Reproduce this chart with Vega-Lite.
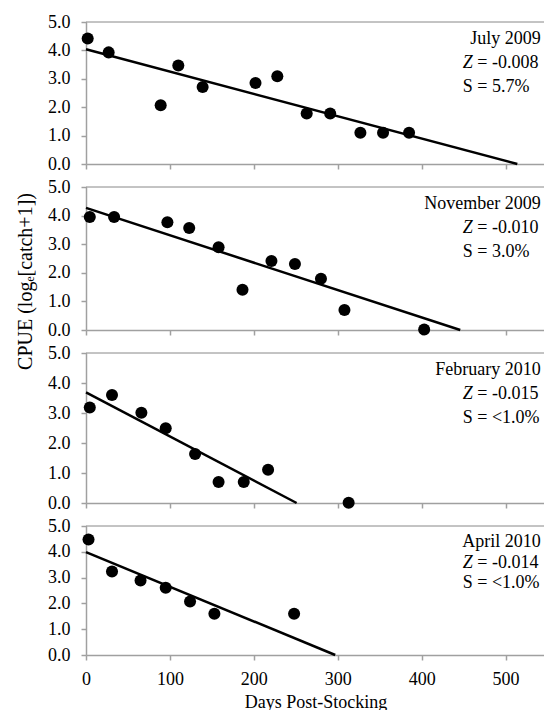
{
  "$schema": "https://vega.github.io/schema/vega-lite/v6.json",
  "padding": {"left": 15, "top": 13, "right": 0, "bottom": 0},
  "background": "white",
  "datasets": {
    "points": [
      {"panel": "July 2009", "days": 2, "cpue": 4.42},
      {"panel": "July 2009", "days": 27, "cpue": 3.93},
      {"panel": "July 2009", "days": 89, "cpue": 2.07},
      {"panel": "July 2009", "days": 110, "cpue": 3.47},
      {"panel": "July 2009", "days": 139, "cpue": 2.71},
      {"panel": "July 2009", "days": 202, "cpue": 2.85},
      {"panel": "July 2009", "days": 228, "cpue": 3.09},
      {"panel": "July 2009", "days": 263, "cpue": 1.78},
      {"panel": "July 2009", "days": 291, "cpue": 1.78},
      {"panel": "July 2009", "days": 327, "cpue": 1.1},
      {"panel": "July 2009", "days": 354, "cpue": 1.1},
      {"panel": "July 2009", "days": 385, "cpue": 1.1},
      {"panel": "November 2009", "days": 4.5, "cpue": 3.95},
      {"panel": "November 2009", "days": 33.5, "cpue": 3.95},
      {"panel": "November 2009", "days": 97, "cpue": 3.77},
      {"panel": "November 2009", "days": 123, "cpue": 3.57},
      {"panel": "November 2009", "days": 158, "cpue": 2.89},
      {"panel": "November 2009", "days": 186.5, "cpue": 1.41},
      {"panel": "November 2009", "days": 221, "cpue": 2.41},
      {"panel": "November 2009", "days": 249, "cpue": 2.31},
      {"panel": "November 2009", "days": 280, "cpue": 1.79},
      {"panel": "November 2009", "days": 308, "cpue": 0.7},
      {"panel": "November 2009", "days": 403, "cpue": 0.02},
      {"panel": "February 2010", "days": 4.5, "cpue": 3.18},
      {"panel": "February 2010", "days": 31, "cpue": 3.6},
      {"panel": "February 2010", "days": 66, "cpue": 3.01},
      {"panel": "February 2010", "days": 95, "cpue": 2.49},
      {"panel": "February 2010", "days": 130, "cpue": 1.63},
      {"panel": "February 2010", "days": 158, "cpue": 0.7},
      {"panel": "February 2010", "days": 188, "cpue": 0.7},
      {"panel": "February 2010", "days": 217, "cpue": 1.11},
      {"panel": "February 2010", "days": 313, "cpue": 0.01},
      {"panel": "April 2010", "days": 3, "cpue": 4.48},
      {"panel": "April 2010", "days": 31, "cpue": 3.24},
      {"panel": "April 2010", "days": 65, "cpue": 2.89},
      {"panel": "April 2010", "days": 95, "cpue": 2.61},
      {"panel": "April 2010", "days": 124, "cpue": 2.07},
      {"panel": "April 2010", "days": 153, "cpue": 1.6},
      {"panel": "April 2010", "days": 248, "cpue": 1.6}
    ],
    "fits": [
      {"panel": "July 2009", "days": 0, "cpue": 4.04},
      {"panel": "July 2009", "days": 514, "cpue": 0},
      {"panel": "November 2009", "days": 0, "cpue": 4.27},
      {"panel": "November 2009", "days": 446, "cpue": 0},
      {"panel": "February 2010", "days": 0, "cpue": 3.69},
      {"panel": "February 2010", "days": 251, "cpue": 0},
      {"panel": "April 2010", "days": 0, "cpue": 3.99},
      {"panel": "April 2010", "days": 297, "cpue": 0}
    ],
    "notes": [
      {"panel": "July 2009", "zrest": "= -0.008", "s": "S = 5.7%"},
      {"panel": "November 2009", "zrest": "= -0.010", "s": "S = 3.0%"},
      {"panel": "February 2010", "zrest": "= -0.015", "s": "S = <1.0%"},
      {"panel": "April 2010", "zrest": "= -0.014", "s": "S = <1.0%"}
    ]
  },
  "bounds": "flush",
  "spacing": 23,
  "vconcat": [
    {
      "width": 459, "height": 142,
      "layer": [
        {"data": {"name": "fits"}, "transform": [{"filter": "datum.panel === 'July 2009'"}], "mark": {"type": "line", "color": "black", "strokeWidth": 2.5}, "encoding": {"x": {"field": "days", "type": "quantitative", "scale": {"domain": [0, 547], "nice": false}, "axis": {"values": [0, 100, 200, 300, 400, 500], "labels": false, "title": null}}, "y": {"field": "cpue", "type": "quantitative", "scale": {"domain": [0, 5], "nice": false}, "axis": {"values": [0, 1, 2, 3, 4, 5], "tickCount": 6, "format": ".1f", "labelOverlap": false, "title": null}}}},
        {"data": {"name": "points"}, "transform": [{"filter": "datum.panel === 'July 2009'"}], "mark": {"type": "circle", "color": "black", "opacity": 1, "size": 145}, "encoding": {"x": {"field": "days", "type": "quantitative"}, "y": {"field": "cpue", "type": "quantitative"}}},
        {"data": {"values": [{}]}, "mark": {"type": "rule", "color": "#888888", "strokeWidth": 1}, "encoding": {"y": {"datum": 5, "type": "quantitative"}}},
        {"data": {"name": "notes"}, "transform": [{"filter": "datum.panel === 'July 2009'"}], "mark": {"type": "text", "align": "right", "baseline": "alphabetic"}, "encoding": {"text": {"field": "panel"}, "x": {"datum": 542, "type": "quantitative"}, "y": {"datum": 4.225, "type": "quantitative"}}},
        {"data": {"name": "notes"}, "transform": [{"filter": "datum.panel === 'July 2009'"}], "mark": {"type": "text", "align": "left", "baseline": "alphabetic", "fontStyle": "italic", "text": "Z"}, "encoding": {"x": {"datum": 449, "type": "quantitative"}, "y": {"datum": 3.38, "type": "quantitative"}}},
        {"data": {"name": "notes"}, "transform": [{"filter": "datum.panel === 'July 2009'"}], "mark": {"type": "text", "align": "left", "baseline": "alphabetic", "dx": 14.5}, "encoding": {"text": {"field": "zrest"}, "x": {"datum": 449, "type": "quantitative"}, "y": {"datum": 3.38, "type": "quantitative"}}},
        {"data": {"name": "notes"}, "transform": [{"filter": "datum.panel === 'July 2009'"}], "mark": {"type": "text", "align": "left", "baseline": "alphabetic"}, "encoding": {"text": {"field": "s"}, "x": {"datum": 449, "type": "quantitative"}, "y": {"datum": 2.535, "type": "quantitative"}}}
      ]
    },
    {
      "width": 459, "height": 143,
      "layer": [
        {"data": {"name": "fits"}, "transform": [{"filter": "datum.panel === 'November 2009'"}], "mark": {"type": "line", "color": "black", "strokeWidth": 2.5}, "encoding": {"x": {"field": "days", "type": "quantitative", "scale": {"domain": [0, 547], "nice": false}, "axis": {"values": [0, 100, 200, 300, 400, 500], "labels": false, "title": null}}, "y": {"field": "cpue", "type": "quantitative", "scale": {"domain": [0, 5], "nice": false}, "axis": {"values": [0, 1, 2, 3, 4, 5], "tickCount": 6, "format": ".1f", "labelOverlap": false, "title": "CPUE (logₑ[catch+1])", "titleY": 94, "titleFontSize": 20}}}},
        {"data": {"name": "points"}, "transform": [{"filter": "datum.panel === 'November 2009'"}], "mark": {"type": "circle", "color": "black", "opacity": 1, "size": 145}, "encoding": {"x": {"field": "days", "type": "quantitative"}, "y": {"field": "cpue", "type": "quantitative"}}},
        {"data": {"values": [{}]}, "mark": {"type": "rule", "color": "#888888", "strokeWidth": 1}, "encoding": {"y": {"datum": 5, "type": "quantitative"}}},
        {"data": {"name": "notes"}, "transform": [{"filter": "datum.panel === 'November 2009'"}], "mark": {"type": "text", "align": "right", "baseline": "alphabetic"}, "encoding": {"text": {"field": "panel"}, "x": {"datum": 542, "type": "quantitative"}, "y": {"datum": 4.231, "type": "quantitative"}}},
        {"data": {"name": "notes"}, "transform": [{"filter": "datum.panel === 'November 2009'"}], "mark": {"type": "text", "align": "left", "baseline": "alphabetic", "fontStyle": "italic", "text": "Z"}, "encoding": {"x": {"datum": 449, "type": "quantitative"}, "y": {"datum": 3.392, "type": "quantitative"}}},
        {"data": {"name": "notes"}, "transform": [{"filter": "datum.panel === 'November 2009'"}], "mark": {"type": "text", "align": "left", "baseline": "alphabetic", "dx": 14.5}, "encoding": {"text": {"field": "zrest"}, "x": {"datum": 449, "type": "quantitative"}, "y": {"datum": 3.392, "type": "quantitative"}}},
        {"data": {"name": "notes"}, "transform": [{"filter": "datum.panel === 'November 2009'"}], "mark": {"type": "text", "align": "left", "baseline": "alphabetic"}, "encoding": {"text": {"field": "s"}, "x": {"datum": 449, "type": "quantitative"}, "y": {"datum": 2.552, "type": "quantitative"}}}
      ]
    },
    {
      "width": 459, "height": 150,
      "layer": [
        {"data": {"name": "fits"}, "transform": [{"filter": "datum.panel === 'February 2010'"}], "mark": {"type": "line", "color": "black", "strokeWidth": 2.5}, "encoding": {"x": {"field": "days", "type": "quantitative", "scale": {"domain": [0, 547], "nice": false}, "axis": {"values": [0, 100, 200, 300, 400, 500], "labels": false, "title": null}}, "y": {"field": "cpue", "type": "quantitative", "scale": {"domain": [0, 5], "nice": false}, "axis": {"values": [0, 1, 2, 3, 4, 5], "tickCount": 6, "format": ".1f", "labelOverlap": false, "title": null}}}},
        {"data": {"name": "points"}, "transform": [{"filter": "datum.panel === 'February 2010'"}], "mark": {"type": "circle", "color": "black", "opacity": 1, "size": 145}, "encoding": {"x": {"field": "days", "type": "quantitative"}, "y": {"field": "cpue", "type": "quantitative"}}},
        {"data": {"values": [{}]}, "mark": {"type": "rule", "color": "#888888", "strokeWidth": 1}, "encoding": {"y": {"datum": 5, "type": "quantitative"}}},
        {"data": {"name": "notes"}, "transform": [{"filter": "datum.panel === 'February 2010'"}], "mark": {"type": "text", "align": "right", "baseline": "alphabetic"}, "encoding": {"text": {"field": "panel"}, "x": {"datum": 542, "type": "quantitative"}, "y": {"datum": 4.267, "type": "quantitative"}}},
        {"data": {"name": "notes"}, "transform": [{"filter": "datum.panel === 'February 2010'"}], "mark": {"type": "text", "align": "left", "baseline": "alphabetic", "fontStyle": "italic", "text": "Z"}, "encoding": {"x": {"datum": 449, "type": "quantitative"}, "y": {"datum": 3.467, "type": "quantitative"}}},
        {"data": {"name": "notes"}, "transform": [{"filter": "datum.panel === 'February 2010'"}], "mark": {"type": "text", "align": "left", "baseline": "alphabetic", "dx": 14.5}, "encoding": {"text": {"field": "zrest"}, "x": {"datum": 449, "type": "quantitative"}, "y": {"datum": 3.467, "type": "quantitative"}}},
        {"data": {"name": "notes"}, "transform": [{"filter": "datum.panel === 'February 2010'"}], "mark": {"type": "text", "align": "left", "baseline": "alphabetic"}, "encoding": {"text": {"field": "s"}, "x": {"datum": 449, "type": "quantitative"}, "y": {"datum": 2.667, "type": "quantitative"}}}
      ]
    },
    {
      "width": 459, "height": 129,
      "layer": [
        {"data": {"name": "fits"}, "transform": [{"filter": "datum.panel === 'April 2010'"}], "mark": {"type": "line", "color": "black", "strokeWidth": 2.5}, "encoding": {"x": {"field": "days", "type": "quantitative", "scale": {"domain": [0, 547], "nice": false}, "axis": {"values": [0, 100, 200, 300, 400, 500], "title": "Days Post-Stocking"}}, "y": {"field": "cpue", "type": "quantitative", "scale": {"domain": [0, 5], "nice": false}, "axis": {"values": [0, 1, 2, 3, 4, 5], "tickCount": 6, "format": ".1f", "labelOverlap": false, "title": null}}}},
        {"data": {"name": "points"}, "transform": [{"filter": "datum.panel === 'April 2010'"}], "mark": {"type": "circle", "color": "black", "opacity": 1, "size": 145}, "encoding": {"x": {"field": "days", "type": "quantitative"}, "y": {"field": "cpue", "type": "quantitative"}}},
        {"data": {"values": [{}]}, "mark": {"type": "rule", "color": "#888888", "strokeWidth": 1}, "encoding": {"y": {"datum": 5, "type": "quantitative"}}},
        {"data": {"name": "notes"}, "transform": [{"filter": "datum.panel === 'April 2010'"}], "mark": {"type": "text", "align": "right", "baseline": "alphabetic"}, "encoding": {"text": {"field": "panel"}, "x": {"datum": 542, "type": "quantitative"}, "y": {"datum": 4.186, "type": "quantitative"}}},
        {"data": {"name": "notes"}, "transform": [{"filter": "datum.panel === 'April 2010'"}], "mark": {"type": "text", "align": "left", "baseline": "alphabetic", "fontStyle": "italic", "text": "Z"}, "encoding": {"x": {"datum": 449, "type": "quantitative"}, "y": {"datum": 3.372, "type": "quantitative"}}},
        {"data": {"name": "notes"}, "transform": [{"filter": "datum.panel === 'April 2010'"}], "mark": {"type": "text", "align": "left", "baseline": "alphabetic", "dx": 14.5}, "encoding": {"text": {"field": "zrest"}, "x": {"datum": 449, "type": "quantitative"}, "y": {"datum": 3.372, "type": "quantitative"}}},
        {"data": {"name": "notes"}, "transform": [{"filter": "datum.panel === 'April 2010'"}], "mark": {"type": "text", "align": "left", "baseline": "alphabetic"}, "encoding": {"text": {"field": "s"}, "x": {"datum": 449, "type": "quantitative"}, "y": {"datum": 2.597, "type": "quantitative"}}}
      ]
    }
  ],
  "config": {
    "view": {"stroke": null},
    "axis": {
      "grid": false,
      "domainColor": "#a0a0a0",
      "domainWidth": 1.5,
      "tickColor": "#a0a0a0",
      "tickWidth": 1.5,
      "tickSize": 5,
      "labelFont": "Liberation Serif",
      "labelFontSize": 18,
      "labelColor": "#000000",
      "labelFlush": false,
      "labelOverlap": false,
      "titleFont": "Liberation Serif",
      "titleFontSize": 18,
      "titleFontWeight": "normal",
      "titleColor": "#000000"
    },
    "axisY": {"labelPadding": 11, "titlePadding": 12},
    "axisX": {"labelPadding": 10, "titlePadding": 5},
    "text": {"font": "Liberation Serif", "fontSize": 18, "color": "#000000"}
  }
}
